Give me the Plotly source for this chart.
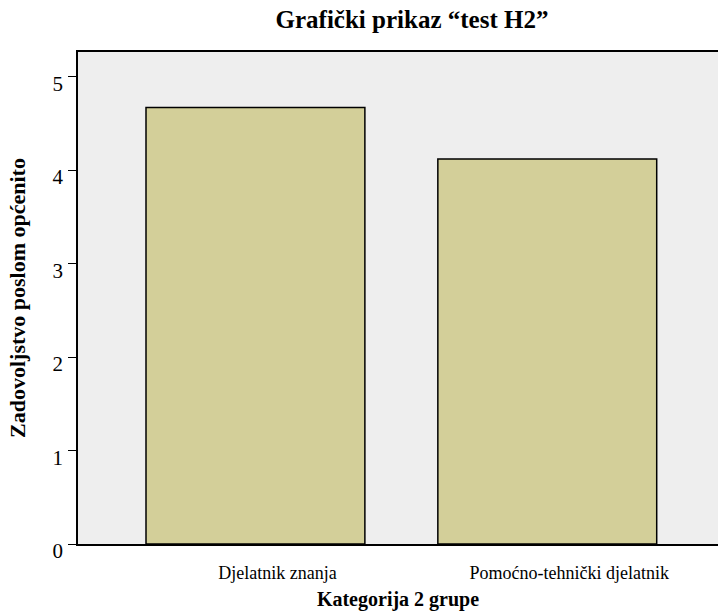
import plotly.graph_objects as go

categories = ["Djelatnik znanja", "Pomoćno-tehnički djelatnik"]
values = [4.67, 4.12]
y_ticks = [0, 1, 2, 3, 4, 5]

FONT = "Liberation Serif"

fig = go.Figure()
fig.add_trace(go.Bar(
    x=[0, 1],
    y=values,
    width=0.75,
    marker=dict(color="#d3cf99", line=dict(color="#000000", width=1.5)),
    hoverinfo="skip",
))

fig.update_layout(
    width=718, height=613,
    margin=dict(l=78, r=0, t=52, b=69),
    paper_bgcolor="white",
    plot_bgcolor="#eeeeee",
    showlegend=False,
    font=dict(family=FONT, color="#000000"),
    title=dict(
        text="<b>Grafički prikaz “test H2”</b>",
        font=dict(family=FONT, size=25, color="#000000"),
        x=412 / 718, xref="container", xanchor="center",
        y=1 - 19 / 613, yref="container", yanchor="middle",
    ),
    xaxis=dict(
        range=[-0.608, 1.585],
        tickmode="array",
        tickvals=[0, 1],
        ticktext=categories,
        ticks="",
        showline=True, linecolor="#000000", linewidth=1.5,
        mirror=True,
        showgrid=False, zeroline=False,
        tickfont=dict(family=FONT, size=18, color="#000000"),
        ticklabelstandoff=12,
        ticklabelshift=22,
        title=dict(text="<b>Kategorija 2 grupe</b>",
                   font=dict(family=FONT, size=20, color="#000000"),
                   standoff=10),
    ),
    yaxis=dict(
        range=[0, 5.264],
        tickmode="array",
        tickvals=y_ticks,
        ticktext=[str(v) for v in y_ticks],
        ticks="outside", ticklen=8, tickwidth=1.2, tickcolor="#000000",
        showline=True, linecolor="#000000", linewidth=1.5,
        showgrid=False, zeroline=False,
        tickfont=dict(family=FONT, size=21, color="#000000"),
        ticklabelshift=7,
        ticklabelstandoff=1,
        title=dict(text="<b>Zadovoljstvo poslom općenito</b>",
                   font=dict(family=FONT, size=22, color="#000000"),
                   standoff=21),
    ),
)

fig.write_html(
    "out.html",
    config={"displayModeBar": False},
    post_script="document.body.style.margin='0';document.body.style.padding='0';",
)
